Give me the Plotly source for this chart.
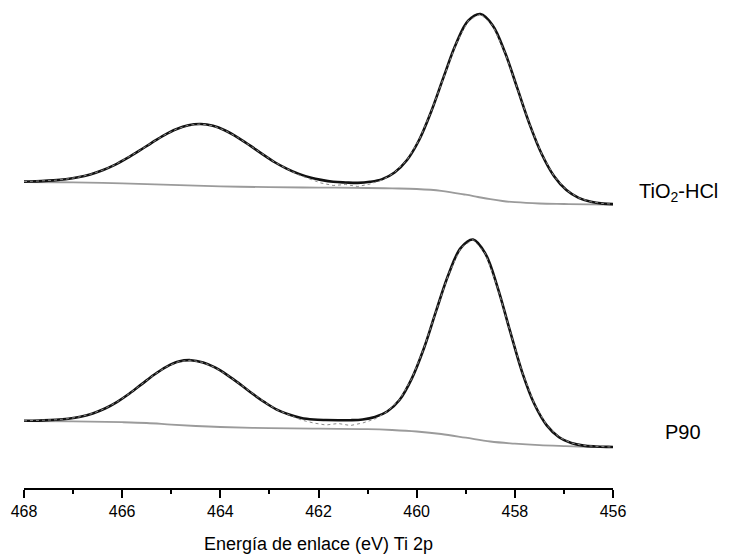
import plotly.graph_objects as go

# ---------------- TiO2-HCl (upper spectrum) ----------------
tio2_ev = [468.0, 467.9, 467.65, 467.4, 467.15, 466.9, 466.65, 466.4, 466.15, 465.9,
           465.65, 465.4, 465.15, 464.9, 464.65, 464.4, 464.15, 463.9, 463.65, 463.4,
           463.15, 462.9, 462.65, 462.4, 462.15,
           461.95, 461.7, 461.45, 461.2, 460.95, 460.7, 460.45, 460.2, 459.95, 459.7,
           459.45, 459.2, 458.95, 458.7, 458.45, 458.2, 457.95, 457.7, 457.45, 457.2,
           456.95, 456.7, 456.45, 456.2, 456.0]
tio2_fit = [24.4, 24.5, 24.9, 25.6, 26.8, 28.7, 31.6, 35.7, 41.1, 47.8,
            55.3, 63.2, 70.7, 76.8, 80.8, 82.0, 80.2, 75.5, 68.7, 60.6,
            52.1, 44.0, 37.4, 32.1, 28.2,
            26.1, 24.2, 23.5, 23.1, 24.2, 26.9, 33.5, 45.7, 66.0, 95.0,
            129.1, 162.0, 185.3, 192.0, 180.6, 153.4, 117.8, 81.9, 51.7, 29.7,
            15.9, 8.1, 4.2, 2.4, 1.9]
tio2_data = [24.4, 24.5, 24.9, 25.6, 26.8, 28.7, 31.6, 35.7, 41.1, 47.8,
             55.3, 63.2, 70.7, 76.8, 80.8, 82.0, 80.2, 75.5, 68.7, 60.6,
             52.1, 44.0, 37.4, 31.0, 26.5,
             23.0, 20.5, 21.5, 19.5, 22.0, 26.0, 33.5, 45.7, 66.0, 95.0,
             129.1, 162.0, 185.3, 192.0, 180.6, 153.4, 117.8, 81.9, 51.7, 29.7,
             15.9, 8.1, 4.2, 2.4, 1.9]
tio2_bg_ev = [468.0, 467.0, 466.0, 465.0, 464.0, 463.0, 462.0, 461.0, 460.5, 460.0,
              459.5, 459.0, 458.75, 458.5, 458.25, 458.0, 457.5, 457.0, 456.5, 456.0]
tio2_bg = [24.0, 23.7, 22.7, 21.2, 19.7, 18.8, 18.4, 18.0, 17.6, 17.0,
           15.2, 11.3, 9.0, 6.8, 5.0, 3.8, 2.5, 2.0, 1.6, 1.5]
tio2_offset = 282

# ---------------- P90 (lower spectrum) ----------------
p90_ev = [468.0, 467.85, 467.6, 467.35, 467.1, 466.85, 466.6, 466.35, 466.1, 465.85,
          465.6, 465.35, 465.1, 464.85, 464.6, 464.35, 464.1, 463.85, 463.6, 463.35,
          463.1, 462.85, 462.6, 462.35, 462.1,
          461.85, 461.6, 461.35, 461.1, 460.85, 460.6, 460.35, 460.1, 459.85, 459.6,
          459.35, 459.1, 458.85, 458.6, 458.35, 458.1, 457.85, 457.6, 457.35, 457.1,
          456.85, 456.6, 456.35, 456.1, 456.0]
p90_fit = [26.2, 26.3, 26.6, 27.2, 28.3, 30.3, 33.6, 38.5, 45.2, 53.5,
           62.9, 72.3, 80.2, 85.4, 86.8, 84.5, 79.3, 71.7, 62.9, 53.5,
           44.8, 37.3, 32.5, 29.0, 27.5,
           27.0, 26.8, 26.8, 27.5, 30.0, 35.5, 47.0, 68.4, 99.0, 136.6,
           172.8, 199.2, 207.5, 193.4, 159.4, 116.3, 74.7, 42.7, 21.6, 9.8,
           4.0, 1.4, 0.5, 0.1, 0.0]
p90_data = [26.2, 26.3, 26.6, 27.2, 28.3, 30.3, 33.6, 38.5, 45.2, 53.5,
            62.9, 72.3, 80.2, 85.4, 86.8, 84.5, 79.3, 71.7, 62.9, 53.5,
            44.8, 37.3, 32.5, 27.0, 24.0,
            22.0, 23.5, 21.5, 24.0, 28.0, 35.5, 47.0, 68.4, 99.0, 136.6,
            172.8, 199.2, 207.5, 193.4, 159.4, 116.3, 74.7, 42.7, 21.6, 9.8,
            4.0, 1.4, 0.5, 0.1, 0.0]
p90_bg_ev = [468.0, 467.0, 466.0, 465.5, 465.0, 464.5, 464.0, 463.0, 462.0, 461.0,
             460.5, 460.0, 459.5, 459.0, 458.5, 458.0, 457.5, 457.0, 456.5, 456.0]
p90_bg = [26.0, 25.7, 24.8, 24.0, 22.4, 21.0, 20.0, 18.9, 18.3, 17.9,
          17.0, 15.5, 13.0, 9.3, 5.5, 3.3, 1.8, 0.9, 0.2, 0.0]
p90_offset = 41

x_ticks = [468, 466, 464, 462, 460, 458, 456]
labels = ["TiO<sub>2</sub>-HCl", "P90"]

FONT = "Liberation Sans, Arial, sans-serif"

fig = go.Figure()


def add_spectrum(ev, fit, data, bg_ev, bg, off):
    fig.add_trace(go.Scatter(x=bg_ev, y=[v + off for v in bg], mode="lines",
                             line=dict(color="#9b9b9b", width=1.8, shape="spline", smoothing=1.0),
                             hoverinfo="skip", showlegend=False))
    fig.add_trace(go.Scatter(x=ev, y=[v + off for v in fit], mode="lines",
                             line=dict(color="#111111", width=2.6, shape="spline", smoothing=1.0),
                             hoverinfo="skip", showlegend=False))
    fig.add_trace(go.Scatter(x=ev, y=[v + off for v in data], mode="lines",
                             line=dict(color="#8a8a8a", width=1.0, dash="3px,3px"),
                             hoverinfo="skip", showlegend=False))


add_spectrum(tio2_ev, tio2_fit, tio2_data, tio2_bg_ev, tio2_bg, tio2_offset)
add_spectrum(p90_ev, p90_fit, p90_data, p90_bg_ev, p90_bg, p90_offset)

fig.add_annotation(text=labels[0], x=1.04, xref="paper", y=296, yref="y",
                   xanchor="left", yanchor="middle", showarrow=False,
                   font=dict(family=FONT, size=20, color="black"))
fig.add_annotation(text=labels[1], x=1.085, xref="paper", y=56, yref="y",
                   xanchor="left", yanchor="middle", showarrow=False,
                   font=dict(family=FONT, size=20, color="black"))

# the page body adds an 8px offset; the figure is sized so the plot lands where the reference has it
fig.update_layout(
    width=730, height=550,
    margin=dict(l=16, r=125, t=0, b=70),
    paper_bgcolor="white", plot_bgcolor="white",
    font=dict(family=FONT, color="black"),
    xaxis=dict(range=[468, 456], tickvals=x_ticks, ticktext=[str(t) for t in x_ticks],
               showgrid=False, zeroline=False, showline=True, linecolor="black", linewidth=1.5,
               ticks="outside", ticklen=8, tickwidth=1.5, tickcolor="black",
               tickfont=dict(family=FONT, size=16, color="black"),
               minor=dict(dtick=1, tick0=456, ticks="outside", ticklen=4, tickwidth=1.5,
                          tickcolor="black", showgrid=False),
               title=dict(text="Energía de enlace (eV) Ti 2p", standoff=18,
                          font=dict(family=FONT, size=18, color="black"))),
    yaxis=dict(range=[0, 480], visible=False, showgrid=False, zeroline=False),
)

fig.write_html("out.html")
